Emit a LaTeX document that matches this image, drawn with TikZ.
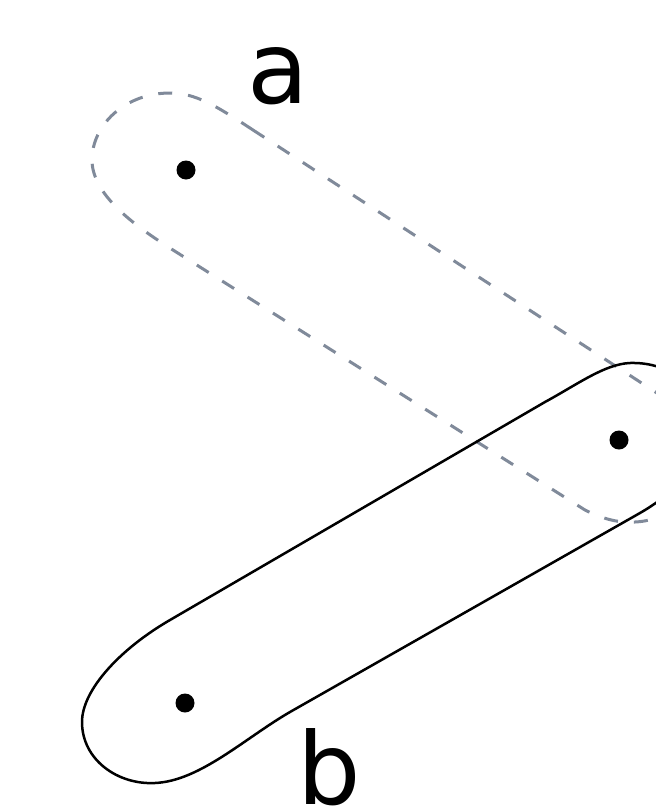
\documentclass[tikz,border=0pt]{standalone}
\usepackage{fontspec}
\setmainfont{DejaVu Sans}
\definecolor{dashgray}{RGB}{128,138,154}
\begin{document}
\begin{tikzpicture}[x=1pt,y=-1pt,
  dashloop/.style={draw=dashgray,line width=3pt,dash pattern=on 14pt off 16pt},
  solidloop/.style={draw=black,line width=2.5pt},
  dot/.style={circle,fill=black,inner sep=0pt,minimum size=19pt},
  lbl/.style={inner sep=0pt,anchor=base,font=\fontsize{100}{100}\selectfont}]
\useasboundingbox (0,0) rectangle (656,809);
\fill[white] (0,0) rectangle (656,809);
\clip (0,0) rectangle (656,809);
% dashed loop a
\path[dashloop] (253,130) .. controls (215,105) and (195,93) .. (170,93)
  .. controls (125,93) and (92,125) .. (92,160)
  .. controls (92,195) and (135,226) .. (173,250)
  -- (585,510)
  .. controls (605,520) and (620,523) .. (635,522)
  .. controls (675,520) and (705,490) .. (705,455)
  .. controls (705,420) and (680,405) .. (660,395)
  -- cycle;
% solid loop b
\path[solidloop] (170,620) .. controls (120,649) and (82,690) .. (82,722)
  .. controls (82,760) and (118,785) .. (155,783)
  .. controls (200,781) and (245,738) .. (290,712)
  -- (640,513)
  .. controls (680,490) and (705,460) .. (700,420)
  .. controls (695,380) and (665,362) .. (630,363)
  .. controls (605,364) and (578,384) .. (545,402)
  -- cycle;
\node[dot] (pa) at (186,170) {};
\node[dot] (pm) at (619,440) {};
\node[dot] (pb) at (185,703) {};
\node[lbl] (la) at (278,103) {a};
\node[lbl] (lb) at (329,804) {b};
\end{tikzpicture}
\end{document}
